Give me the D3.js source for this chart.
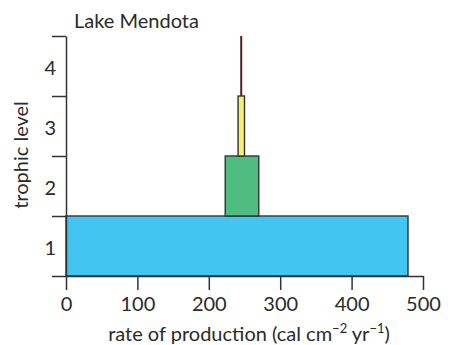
<!DOCTYPE html>
<html>
<head>
<meta charset="utf-8">
<script src="https://cdn.jsdelivr.net/npm/d3@7"></script>
<style>
  html, body { margin: 0; padding: 0; background: #ffffff; }
  svg { display: block; }
  text { font-family: Lato, "Open Sans", sans-serif; fill: #2b2b2b; }
</style>
</head>
<body>
<svg id="chart" width="452" height="345"></svg>
<script>
// ---- data ----
const title = "Lake Mendota";
const levels = [1, 2, 3, 4];
const barStart = [0, 223, 241, 244];
const barEnd = [479, 270, 250, 246.8];
const barColors = ["#42c6f1", "#4fbd80", "#f7ee70", "#5a1c1c"];
const xTicks = [0, 100, 200, 300, 400, 500];
const yBoundaries = [0.5, 1.5, 2.5, 3.5, 4.5];
const yLabel = "trophic level";

// ---- layout ----
const svg = d3.select("#chart");
const x = d3.scaleLinear().domain([0, 500]).range([66, 423]);
const y = d3.scaleLinear().domain([0.5, 4.5]).range([276, 36]);
const ink = "#333333";
const fs = 20;

// bars
svg.append("g").selectAll("rect")
  .data(levels)
  .join("rect")
  .attr("x", (d, i) => x(barStart[i]))
  .attr("width", (d, i) => x(barEnd[i]) - x(barStart[i]))
  .attr("y", d => y(d + 0.5))
  .attr("height", d => y(d - 0.5) - y(d + 0.5))
  .attr("fill", (d, i) => barColors[i])
  .attr("stroke", (d, i) => i === 3 ? "none" : ink)
  .attr("stroke-width", 1.4);

// x axis
const xAxis = svg.append("g")
  .attr("transform", `translate(0,${y(0.5)})`)
  .call(d3.axisBottom(x).tickValues(xTicks).tickSize(14).tickPadding(7).tickSizeOuter(0));
xAxis.select(".domain").attr("stroke", ink).attr("stroke-width", 1.5);
xAxis.selectAll(".tick line").attr("stroke", ink).attr("stroke-width", 1.5);
xAxis.selectAll(".tick text")
  .style("font-family", "Lato, sans-serif").attr("font-size", fs).attr("fill", "#2b2b2b");

// y axis (boundary ticks, labels at level centres)
const yAxis = svg.append("g")
  .attr("transform", `translate(${x(0)},0)`)
  .call(d3.axisLeft(y).tickValues(yBoundaries).tickSize(14).tickFormat("").tickSizeOuter(0));
yAxis.select(".domain").attr("stroke", ink).attr("stroke-width", 1.5);
yAxis.selectAll(".tick line").attr("stroke", ink).attr("stroke-width", 1.5);

svg.append("g").selectAll("text")
  .data(levels)
  .join("text")
  .attr("x", 56)
  .attr("y", d => y(d) + 9)
  .attr("text-anchor", "end")
  .attr("font-size", fs)
  .text(d => d);

// title
svg.append("text")
  .attr("x", 74).attr("y", 28)
  .attr("font-size", fs)
  .text(title);

// y label
svg.append("text")
  .attr("transform", "translate(28,155) rotate(-90)")
  .attr("text-anchor", "middle")
  .attr("font-size", fs)
  .text(yLabel);

// x label with superscripts
const xl = svg.append("text")
  .attr("x", 249).attr("y", 341)
  .attr("text-anchor", "middle")
  .attr("font-size", fs);
xl.append("tspan").text("rate of production (cal cm");
xl.append("tspan").attr("dy", -8).attr("font-size", 13).text("\u22122");
xl.append("tspan").attr("dy", 8).text(" yr");
xl.append("tspan").attr("dy", -8).attr("font-size", 13).text("\u22121");
xl.append("tspan").attr("dy", 8).text(")");
</script>
</body>
</html>
